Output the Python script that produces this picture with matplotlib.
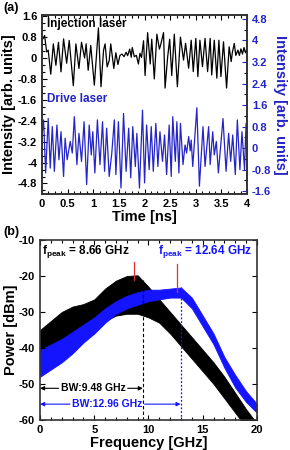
import matplotlib
matplotlib.use("Agg")
import matplotlib.pyplot as plt
from matplotlib.ticker import AutoMinorLocator, FuncFormatter
import numpy as np

plt.rcParams.update({
    'font.family': ['Liberation Sans', 'DejaVu Sans'],
    'font.weight': 'bold',
    'axes.unicode_minus': False,
    'mathtext.fontset': 'custom',
    'mathtext.rm': 'Liberation Sans',
    'mathtext.bf': 'Liberation Sans:bold',
    'xtick.direction': 'in',
    'ytick.direction': 'in',
})

# ---- (a) time traces: extrema ----
t_inj = [0.00, 0.05, 0.09, 0.12, 0.17, 0.22, 0.27, 0.32, 0.37, 0.42,
         0.48, 0.53, 0.61, 0.66, 0.72, 0.77, 0.83, 0.86, 0.90, 0.95,
         1.02, 1.10, 1.15, 1.20, 1.23, 1.27, 1.31, 1.34, 1.40, 1.44,
         1.48, 1.52, 1.56, 1.60, 1.64, 1.67, 1.71, 1.74, 1.76, 1.80,
         1.84, 1.88, 1.91, 1.94, 1.98, 2.01, 2.06, 2.11, 2.14, 2.19,
         2.24, 2.29, 2.31, 2.37, 2.40, 2.45, 2.49, 2.53, 2.58, 2.64,
         2.70, 2.76, 2.80, 2.86, 2.91, 2.95, 3.00, 3.04, 3.08, 3.13,
         3.18, 3.23, 3.28, 3.31, 3.36, 3.41, 3.45, 3.49, 3.54, 3.60,
         3.65, 3.69, 3.71, 3.75, 3.78, 3.82, 3.85, 3.88, 3.91, 3.94,
         3.97, 4.00]
v_inj = [0.67, 0.86, 0.23, 0.30, -0.62, 0.54, -0.28, 0.60, -0.53, 0.73,
         -0.20, 0.67, -1.06, 0.54, -0.40, 0.60, 0.00, 0.54, -0.47, 0.48,
         -1.04, 1.15, -1.10, 0.30, 0.54, -0.34, -0.10, 0.54, -0.40, 0.20,
         -0.25, 0.10, 0.15, 0.05, 0.22, 0.09, 0.34, 0.03, 0.40, 0.05,
         0.10, -0.23, 0.18, 0.02, 0.66, -0.67, 0.97, -0.23, 0.72, -0.80,
         0.91, 0.34, 0.47, 0.97, -1.15, 0.03, 0.72, -0.67, 0.91, -1.10,
         0.80, -0.08, 0.56, -0.39, 0.68, -0.52, 0.75, -0.71, 0.68, -0.33,
         0.75, -0.52, 0.75, -0.65, 0.68, -0.77, 0.68, -0.71, 0.62, -1.15,
         0.43, -0.14, 0.18, 0.56, 0.10, 0.30, 0.10, 0.35, 0.15, 0.40,
         0.20, 0.35]

t_drv = [0.00, 0.03, 0.07, 0.12, 0.16, 0.20, 0.24, 0.29, 0.33, 0.37,
         0.42, 0.45, 0.49, 0.55, 0.59, 0.63, 0.68, 0.72, 0.77, 0.82,
         0.87, 0.92, 0.96, 0.99, 1.03, 1.08, 1.13, 1.18, 1.22, 1.26,
         1.31, 1.36, 1.41, 1.44, 1.49, 1.54, 1.59, 1.64, 1.69, 1.73,
         1.77, 1.82, 1.85, 1.90, 1.96, 2.00, 2.04, 2.09, 2.13, 2.17,
         2.22, 2.26, 2.30, 2.35, 2.39, 2.43, 2.48, 2.52, 2.55, 2.60,
         2.63, 2.67, 2.70, 2.75, 2.79, 2.82, 2.86, 2.89, 2.91, 2.94,
         3.02, 3.07, 3.14, 3.18, 3.25, 3.28, 3.33, 3.36, 3.40, 3.44,
         3.53, 3.59, 3.64, 3.68, 3.72, 3.77, 3.81, 3.86, 3.90, 3.95,
         3.98, 4.00]
v_drv = [0.49, 1.05, -0.92, 1.10, -0.74, 0.80, -0.86, 0.86, -0.43, 0.61,
         -1.05, 0.37, -0.43, 0.25, -0.18, 1.17, -0.61, 0.55, -0.49, 0.98,
         -1.35, 0.86, -0.25, 0.61, -0.92, 1.05, -0.61, 0.98, -0.86, 0.74,
         -1.05, -0.20, 1.05, -0.98, 0.98, -1.48, 1.29, -0.86, 0.74, -1.10,
         0.80, -0.68, 0.55, -1.48, 1.41, -1.29, 0.86, -0.80, 0.80, -0.86,
         0.92, -0.68, 0.61, -0.49, 0.49, -0.98, 0.86, -1.05, 1.17, -0.49,
         0.98, -0.92, 0.92, -0.61, 0.12, -0.18, 0.43, -0.10, 0.30, -0.68,
         1.50, -1.41, 0.80, -0.68, 0.80, -0.61, 0.61, -0.25, 0.25, -0.92,
         1.10, -0.86, 0.55, -0.49, 0.49, -0.98, 1.05, -0.80, 0.61, -0.80,
         0.92, 0.30]

# ---- (b) spectra: upper / lower envelope of the comb, in dBm ----
freq = [0, 1, 2, 3, 4, 5, 6, 7, 8, 9, 10,
        11, 12, 13, 14, 15, 16, 17, 18, 19, 20]
inj_hi = [-35, -32.5, -30, -28.5, -27.8, -26.5, -23.5, -21.3, -20, -19.8, -23,
          -26.5, -30, -33.5, -37, -40.5, -44, -48, -52.5, -57, -61]
inj_lo = [-45, -43, -40.5, -38.5, -37, -35, -32.5, -31, -30.5, -30.5, -31.5,
          -33, -36, -39.5, -43, -46.5, -50, -54, -58, -62, -64]
drv_hi = [-40.5, -39, -37.5, -35.5, -33.5, -31.5, -29, -27, -25.5, -24.5, -23.8,
          -23.8, -23.5, -23.2, -26, -31, -36, -42.5, -47.5, -52, -55.5]
drv_lo = [-48, -46, -44, -41.5, -38.5, -36, -33, -30.5, -29, -28, -27,
          -26.5, -26, -26, -29, -34, -39, -45.5, -51, -55, -58]

f_peak_inj, f_peak_drv = 8.66, 12.64
bw_inj, bw_drv = 9.48, 12.96

BLUE = '#2424c8'
BLUE_SP = '#1414ff'
EDGE = '#333333'

fig = plt.figure(figsize=(2.9, 4.5), dpi=100)


def style(ax, right=True, top=True):
    for s in ax.spines.values():
        s.set_linewidth(1.2)
        s.set_color(EDGE)
    ax.tick_params(which='both', top=top, right=right, labelsize=8, width=0.8)
    ax.tick_params(which='major', length=3.5)
    ax.tick_params(which='minor', length=2)


def _num(v, pos):
    v = round(v, 2)
    if v == 0:
        return '0'
    return '%g' % v


# ---- panel (a) ----
ax1 = fig.add_axes([0.145, 0.569, 0.707, 0.398])
ax2 = ax1.twinx()
ax1.plot(t_inj, v_inj, color='black', lw=0.9)
ax2.plot(t_drv, v_drv, color=BLUE, lw=0.9)
ax1.set_xlim(0, 4)
ax1.set_ylim(-5.2, 1.65)
ax2.set_ylim(-1.7, 4.95)
ax1.set_xticks(np.arange(0, 4.01, 0.5))
ax1.set_yticks(np.arange(-4.8, 1.61, 0.8))
ax2.set_yticks(np.arange(-1.6, 4.81, 0.8))
fmt = FuncFormatter(_num)
ax1.xaxis.set_major_formatter(fmt)
ax1.yaxis.set_major_formatter(fmt)
ax2.yaxis.set_major_formatter(fmt)
ax1.xaxis.set_minor_locator(AutoMinorLocator(4))
ax1.yaxis.set_minor_locator(AutoMinorLocator(3))
ax2.yaxis.set_minor_locator(AutoMinorLocator(2))
style(ax1, right=False)
style(ax2, right=True)
ax2.tick_params(axis='y', colors=BLUE, labelcolor=BLUE)
ax2.spines['right'].set_color(EDGE)
ax1.set_xlabel('Time [ns]', fontsize=10.5, fontweight='bold', labelpad=1)
ax1.set_ylabel('Intensity [arb. units]', fontsize=10.5, fontweight='bold', labelpad=1)
ax2.set_ylabel('Intensity [arb. units]', fontsize=10.5, fontweight='bold',
               color=BLUE, rotation=270, labelpad=11)
ax1.text(0.025, 0.95, 'Injection laser', transform=ax1.transAxes,
         fontsize=8.5, fontweight='bold', va='center')
ax1.text(0.025, 0.53, 'Drive laser', transform=ax1.transAxes,
         fontsize=8.5, fontweight='bold', va='center', color=BLUE)
fig.text(0.012, 0.982, '(a)', fontsize=9, fontweight='bold', va='center')

# ---- panel (b) ----
bx = fig.add_axes([0.138, 0.0667, 0.748, 0.4])
bx.fill_between(freq, inj_lo, inj_hi, color='black', lw=0.6, edgecolor='black')
bx.fill_between(freq, drv_lo, drv_hi, color=BLUE_SP, lw=0.6, edgecolor=BLUE_SP)
bx.set_xlim(0, 20)
bx.set_ylim(-60, -10)
bx.set_xticks([0, 5, 10, 15, 20])
bx.set_yticks(np.arange(-60, -9, 10))
bx.xaxis.set_minor_locator(AutoMinorLocator(5))
style(bx)
bx.set_xlabel('Frequency [GHz]', fontsize=10.5, fontweight='bold', labelpad=1)
bx.set_ylabel('Power [dBm]', fontsize=10.5, fontweight='bold', labelpad=1)
fig.text(0.012, 0.485, '(b)', fontsize=9, fontweight='bold', va='center')

# peak markers and bandwidth edges
bx.plot([f_peak_inj, f_peak_inj], [-16, -21], color='#e03030', lw=0.9)
bx.plot([f_peak_drv, f_peak_drv], [-16.7, -24.5], color='#e03030', lw=0.9)
bx.plot([bw_inj, bw_inj], [-60, -21], color='black', lw=0.8, ls=(0, (3, 2)))
bx.plot([bw_drv, bw_drv], [-60, -23], color=BLUE_SP, lw=0.9, ls=(0, (1.5, 1.5)))

bx.text(0.15, -13.2, r'f$_{\mathbf{peak}}$ = %.2f GHz' % f_peak_inj,
        fontsize=8.5, fontweight='bold', va='center')
bx.text(10.9, -13.2, r'f$_{\mathbf{peak}}$ = %.2f GHz' % f_peak_drv,
        fontsize=8.5, fontweight='bold', va='center', color=BLUE_SP)


def bw_arrow(ax, x_end, y, label, color, xc):
    t = ax.text(xc, y, label, ha='center', va='center', color=color,
                fontsize=7.5, fontweight='bold')
    fig.canvas.draw()
    bb = t.get_window_extent().transformed(ax.transData.inverted())
    kw = dict(arrowstyle='-|>', color=color, lw=0.8, mutation_scale=6,
              shrinkA=0, shrinkB=0)
    ax.annotate('', xy=(0, y), xytext=(bb.x0 - 0.2, y), arrowprops=kw)
    ax.annotate('', xy=(x_end, y), xytext=(bb.x1 + 0.2, y), arrowprops=kw)


bw_arrow(bx, bw_inj, -51.2, 'BW:%.2f GHz' % bw_inj, 'black', 4.9)
bw_arrow(bx, bw_drv, -55.6, 'BW:%.2f GHz' % bw_drv, BLUE_SP, 6.2)

fig.savefig('out.png', dpi=100)
